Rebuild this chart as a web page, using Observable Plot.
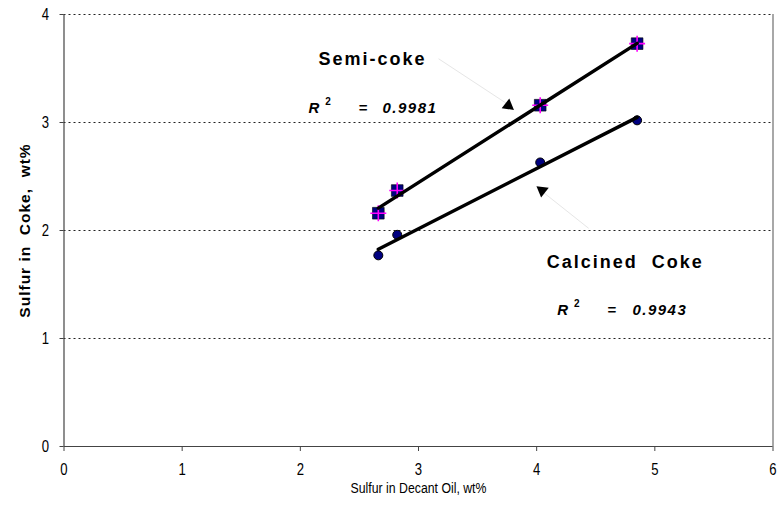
<!DOCTYPE html>
<html><head><meta charset="utf-8">
<script src="https://cdn.jsdelivr.net/npm/d3@7"></script>
<script src="https://cdn.jsdelivr.net/npm/@observablehq/plot@0.6"></script>
<style>
html,body{margin:0;padding:0;background:#fff;}
</style></head><body><div id="chart"></div>
<script>
const xTicks = [0, 1, 2, 3, 4, 5, 6];
const yTicks = [0, 1, 2, 3, 4];
const gridY = [1, 2, 3, 4];
const decantOilS = [2.66, 2.82, 4.03, 4.85];
const semiCokeS = [2.16, 2.37, 3.16, 3.73];
const calcinedCokeS = [1.77, 1.96, 2.63, 3.02];
const semiLabel = "Semi-coke";
const calcLabel = "Calcined\u00a0 Coke";
const r2Semi = "0.9981";
const r2Calc = "0.9943";
const xTitle = "Sulfur in Decant Oil, wt%";
const yTitle = "Sulfur in\u00a0 Coke,\u00a0 wt%";

const semi = decantOilS.map((x, i) => ({x, y: semiCokeS[i]}));
const calc = decantOilS.map((x, i) => ({x, y: calcinedCokeS[i]}));
const navy = "#000080";
const axisFont = "'Liberation Sans', Arial, sans-serif";
const annFont = "'Liberation Sans', Arial, sans-serif";
const fmt = d => String(d);

const plot = Plot.plot({
  width: 778, height: 516,
  marginLeft: 63.5, marginRight: 5.5, marginTop: 14, marginBottom: 70,
  style: {fontFamily: axisFont, fontSize: "16px", background: "#fff", color: "#000"},
  x: {domain: [0, 6], label: null},
  y: {domain: [0, 4], label: null},
  marks: [
    Plot.ruleY(gridY, {stroke: "#222", strokeDasharray: "2,3", strokeWidth: 1}),
    Plot.ruleX([6], {stroke: "#a8a8a8", strokeWidth: 2}),
    Plot.ruleX([0], {stroke: "#444", strokeWidth: 1.2}),
    Plot.ruleY([0], {stroke: "#444", strokeWidth: 1.2}),
    Plot.axisX(xTicks, {tickSize: 5, tickPadding: 12, tickFormat: fmt, fontSize: 16, stroke: "#444", label: null, fontFamily: axisFont}),
    Plot.axisY(yTicks, {tickSize: 4, tickPadding: 11, tickFormat: fmt, fontSize: 16, stroke: "#444", label: null, fontFamily: axisFont}),
    Plot.text([xTitle], {frameAnchor: "bottom", dy: 46, fontSize: 15, fontFamily: axisFont}),
    Plot.text([yTitle], {frameAnchor: "left", textAnchor: "middle", dx: -39, rotate: -90, fontSize: 15.5, fontWeight: "bold", fontFamily: annFont}),
    // faint leader lines
    Plot.link([{x1: 3.17, y1: 3.59, x2: 3.74, y2: 3.18}, {x1: 4.44, y1: 2.02, x2: 4.06, y2: 2.35}],
      {x1: "x1", y1: "y1", x2: "x2", y2: "y2", stroke: "#e6e6e6", strokeWidth: 1}),
    Plot.dot([{x: 3.76, y: 3.157, a: 8}, {x: 4.046, y: 2.37, a: 188}],
      {x: "x", y: "y", symbol: "triangle", r: 4.6, fill: "#000", stroke: "none", rotate: "a"}),
    // markers
    Plot.dot(calc, {x: "x", y: "y", r: 4.5, fill: navy, stroke: "#000", strokeWidth: 1}),
    Plot.dot(semi, {x: "x", y: "y", symbol: "square", r: 6.6, fill: navy, stroke: "#000", strokeWidth: 0.6}),
    Plot.dot(semi, {x: "x", y: "y", symbol: "plus", r: 5.2, fill: "none", stroke: "#ff00ff", strokeWidth: 1.6}),
    // trend lines
    Plot.linearRegressionY(semi, {x: "x", y: "y", ci: 0, stroke: "#000", strokeWidth: 3.5}),
    Plot.linearRegressionY(calc, {x: "x", y: "y", ci: 0, stroke: "#000", strokeWidth: 3.5}),
    // annotations
    Plot.text([semiLabel], {x: 2.61, y: 3.59, fontSize: 18, fontWeight: "bold", fontFamily: annFont}),
    Plot.text([calcLabel], {x: 4.75, y: 1.71, fontSize: 18, fontWeight: "bold", fontFamily: annFont}),
    Plot.text(["R"], {x: 2.069, y: 3.13, textAnchor: "start", fontSize: 15, fontWeight: "bold", fontStyle: "italic", fontFamily: annFont}),
    Plot.text(["2"], {x: 2.21, y: 3.13, dy: -7, textAnchor: "start", fontSize: 10, fontWeight: "bold", fontFamily: annFont}),
    Plot.text(["="], {x: 2.492, y: 3.13, textAnchor: "start", fontSize: 15, fontWeight: "bold", fontStyle: "italic", fontFamily: annFont}),
    Plot.text([r2Semi], {x: 2.695, y: 3.13, textAnchor: "start", fontSize: 15, fontWeight: "bold", fontStyle: "italic", fontFamily: annFont}),
    Plot.text(["R"], {x: 4.175, y: 1.26, textAnchor: "start", fontSize: 15, fontWeight: "bold", fontStyle: "italic", fontFamily: annFont}),
    Plot.text(["2"], {x: 4.316, y: 1.26, dy: -7, textAnchor: "start", fontSize: 10, fontWeight: "bold", fontFamily: annFont}),
    Plot.text(["="], {x: 4.598, y: 1.26, textAnchor: "start", fontSize: 15, fontWeight: "bold", fontStyle: "italic", fontFamily: annFont}),
    Plot.text([r2Calc], {x: 4.81, y: 1.26, textAnchor: "start", fontSize: 15, fontWeight: "bold", fontStyle: "italic", fontFamily: annFont})
  ]
});
const svg = d3.select(plot);
svg.selectAll("g[font-weight='bold'][font-size='18']").attr("letter-spacing", 2);
svg.selectAll("g[font-weight='bold'][font-size='15']").attr("letter-spacing", 1.5);
svg.selectAll("g[font-weight='bold'][font-size='15.5']").attr("letter-spacing", 1);
// narrow the axis typography (the reference uses a condensed face)
const narrow = function(k) { return function() { return (this.getAttribute("transform") || "") + ` scale(${k},1)`; }; };
svg.selectAll("g[aria-label='x-axis tick label'] text, g[aria-label='y-axis tick label'] text").attr("transform", narrow(0.82));
svg.selectAll("text").filter(function() { return this.textContent === xTitle; }).attr("transform", narrow(0.82));
document.getElementById("chart").appendChild(plot);
</script></body></html>
